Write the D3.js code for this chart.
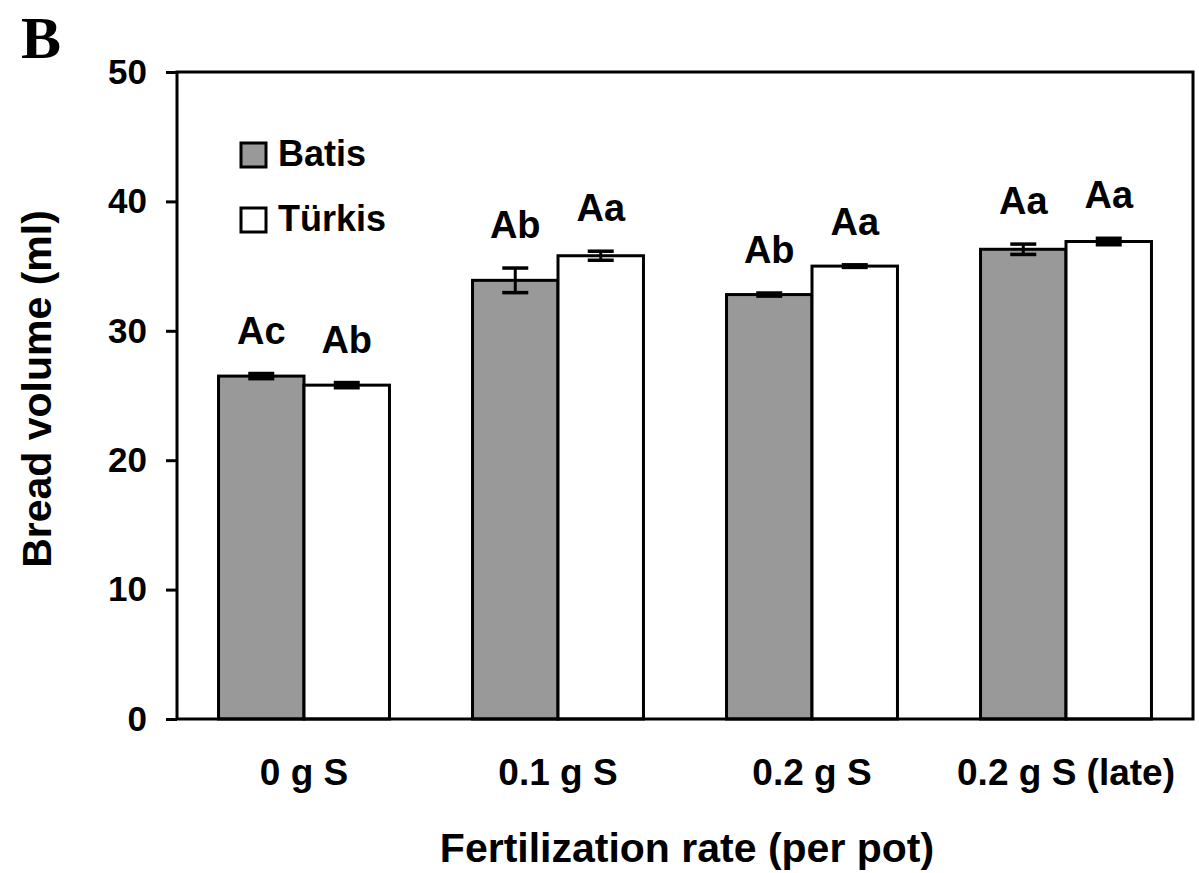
<!DOCTYPE html>
<html>
<head>
<meta charset="utf-8">
<script src="https://cdn.jsdelivr.net/npm/d3@7"></script>
<style>
  body { margin: 0; background: #fff; }
  text { font-family: "Liberation Sans", Arial, sans-serif; font-weight: bold; fill: #000; }
</style>
</head>
<body>
<svg id="chart" width="1199" height="873"></svg>
<script>

// data
const categories = [ "0 g S", "0.1 g S", "0.2 g S", "0.2 g S (late)" ];
const cultivars = [ "Batis", "Türkis" ];
const batisMean = [ 26.5, 33.9, 32.8, 36.3 ];
const batisErr = [ 0.2, 0.95, 0.12, 0.4 ];
const turkisMean = [ 25.8, 35.8, 35.0, 36.9 ];
const turkisErr = [ 0.2, 0.35, 0.1, 0.25 ];
const batisLetters = [ "Ac", "Ab", "Ab", "Aa" ];
const turkisLetters = [ "Ab", "Aa", "Aa", "Aa" ];
const yTicks = [ 0, 10, 20, 30, 40, 50 ];

const colors = { "Batis": "#999999", "Türkis": "#ffffff" };

const rows = [];
categories.forEach( ( c, i ) => {
  rows.push( { cat: c, cv: "Batis", mean: batisMean[ i ], err: batisErr[ i ], letter: batisLetters[ i ] } );
  rows.push( { cat: c, cv: "Türkis", mean: turkisMean[ i ], err: turkisErr[ i ], letter: turkisLetters[ i ] } );
} );

const plotLeft = 177, plotRight = 1193, plotTop = 72, plotBottom = 719;

const svg = d3.select( "#chart" );

const x0 = d3.scaleBand()
  .domain( categories )
  .range( [ plotLeft, plotRight ] )
  .paddingInner( 0.327 )
  .paddingOuter( 0.1635 );

const x1 = d3.scaleBand()
  .domain( cultivars )
  .range( [ 0, x0.bandwidth() ] );

const y = d3.scaleLinear()
  .domain( [ 0, 50 ] )
  .range( [ plotBottom, plotTop ] );

// panel letter
svg.append( "text" )
  .attr( "x", 21 )
  .attr( "y", 58 )
  .style( "font-family", "'Liberation Serif', 'Times New Roman', serif" )
  .style( "font-size", "60px" )
  .text( "B" );

// bars
const bars = svg.append( "g" )
  .selectAll( "g.bar" )
  .data( rows )
  .enter().append( "g" )
    .attr( "class", "bar" );

bars.append( "rect" )
  .attr( "x", d => x0( d.cat ) + x1( d.cv ) )
  .attr( "y", d => y( d.mean ) )
  .attr( "width", x1.bandwidth() )
  .attr( "height", d => y( 0 ) - y( d.mean ) )
  .attr( "fill", d => colors[ d.cv ] )
  .attr( "stroke", "#000" )
  .attr( "stroke-width", 3 );

// error bars
const cx = d => x0( d.cat ) + x1( d.cv ) + x1.bandwidth() / 2;
const capW = 13;

bars.append( "line" )
  .attr( "x1", cx ).attr( "x2", cx )
  .attr( "y1", d => y( d.mean + d.err ) )
  .attr( "y2", d => y( d.mean - d.err ) )
  .attr( "stroke", "#000" )
  .attr( "stroke-width", 3 );

bars.append( "line" )
  .attr( "x1", d => cx( d ) - capW ).attr( "x2", d => cx( d ) + capW )
  .attr( "y1", d => y( d.mean + d.err ) )
  .attr( "y2", d => y( d.mean + d.err ) )
  .attr( "stroke", "#000" )
  .attr( "stroke-width", 3.5 );

bars.append( "line" )
  .attr( "x1", d => cx( d ) - capW ).attr( "x2", d => cx( d ) + capW )
  .attr( "y1", d => y( d.mean - d.err ) )
  .attr( "y2", d => y( d.mean - d.err ) )
  .attr( "stroke", "#000" )
  .attr( "stroke-width", 3.5 );

// significance letters
bars.append( "text" )
  .attr( "x", cx )
  .attr( "y", d => y( d.mean + d.err ) - 30 )
  .attr( "text-anchor", "middle" )
  .style( "font-size", "38px" )
  .text( d => d.letter );

// frame
svg.append( "rect" )
  .attr( "x", plotLeft )
  .attr( "y", plotTop )
  .attr( "width", plotRight - plotLeft )
  .attr( "height", plotBottom - plotTop )
  .attr( "fill", "none" )
  .attr( "stroke", "#000" )
  .attr( "stroke-width", 3 );

// y axis
const yAxis = svg.append( "g" )
  .attr( "transform", `translate(${ plotLeft },0)` )
  .call( d3.axisLeft( y ).tickValues( yTicks ).tickSize( 11 ).tickPadding( 19 ) );

yAxis.select( ".domain" ).remove();
yAxis.selectAll( "line" ).attr( "stroke", "#000" ).attr( "stroke-width", 3 );
yAxis.selectAll( "text" )
  .style( "font-size", "35px" )
  .style( "font-family", "'Liberation Sans', Arial, sans-serif" )
  .style( "font-weight", "bold" );

// x axis labels
const xAxis = svg.append( "g" )
  .attr( "transform", `translate(0,${ plotBottom })` )
  .call( d3.axisBottom( x0 ).tickSize( 0 ).tickPadding( 40 ) );

xAxis.select( ".domain" ).remove();
xAxis.selectAll( "text" )
  .style( "font-size", "37px" )
  .style( "font-family", "'Liberation Sans', Arial, sans-serif" )
  .style( "font-weight", "bold" );

// axis titles
svg.append( "text" )
  .attr( "x", 687 )
  .attr( "y", 862 )
  .attr( "text-anchor", "middle" )
  .style( "font-size", "41px" )
  .text( "Fertilization rate (per pot)" );

svg.append( "text" )
  .attr( "transform", "translate(51,389) rotate(-90)" )
  .attr( "text-anchor", "middle" )
  .style( "font-size", "41px" )
  .text( "Bread volume (ml)" );

// legend
const legend = svg.append( "g" )
  .selectAll( "g.legend" )
  .data( cultivars )
  .enter().append( "g" )
    .attr( "class", "legend" )
    .attr( "transform", ( d, i ) => `translate(241,${ 143 + i * 65 })` );

legend.append( "rect" )
  .attr( "width", 25 )
  .attr( "height", 24 )
  .attr( "fill", d => colors[ d ] )
  .attr( "stroke", "#000" )
  .attr( "stroke-width", 3 );

legend.append( "text" )
  .attr( "x", 37 )
  .attr( "y", 23 )
  .style( "font-size", "36px" )
  .text( d => d );

</script>
</body>
</html>
